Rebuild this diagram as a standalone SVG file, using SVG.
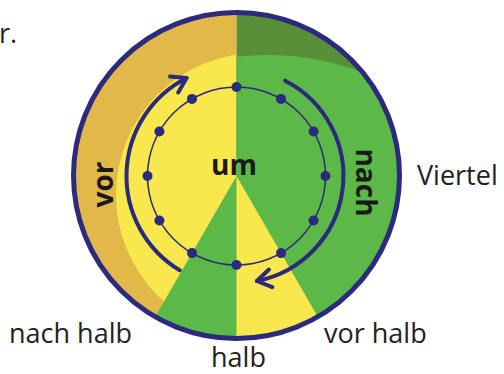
<svg xmlns="http://www.w3.org/2000/svg" width="504" height="374" viewBox="0 0 504 374">
<defs>
<style>
.lbl{font-family:"Open Sans","DejaVu Sans",sans-serif;font-size:27px;fill:#222}
.big{font-family:"Open Sans","DejaVu Sans",sans-serif;font-size:28px;font-weight:bold;fill:#1a1a1a}
.navy{fill:none;stroke:#2b2a7e}
.dot{fill:#2b2a7e}
</style>
<clipPath id="disc"><circle cx="236.5" cy="175.5" r="163"/></clipPath>
<clipPath id="lefthalf"><rect x="0" y="0" width="236.5" height="374"/></clipPath>
<clipPath id="righthalf"><rect x="236.5" y="0" width="270" height="374"/></clipPath>
</defs>
<rect width="504" height="374" fill="#ffffff"/>
<g id="dial">
<g clip-path="url(#disc)">
<rect x="60" y="0" width="176.5" height="374" fill="#e2b948"/>
<circle cx="258" cy="195" r="142" fill="#f8e84e" clip-path="url(#lefthalf)"/>
<rect x="236.5" y="0" width="180" height="374" fill="#5a8f3a"/>
<circle cx="268" cy="323" r="268" fill="#5cb947" clip-path="url(#righthalf)"/>
<path d="M236.5,176 L136.5,349.2 L236.5,376 Z" fill="#5cb947"/>
<path d="M236.5,176 L236.5,376 L336.5,349.2 Z" fill="#f8e84e"/>
</g>
<circle class="navy" cx="236.5" cy="175.5" r="163" stroke-width="5"/>
</g>
<g id="clockface">
<circle class="navy" cx="236.5" cy="176" r="89" stroke-width="1.5"/>
<circle class="dot" cx="236.5" cy="87" r="5"/>
<circle class="dot" cx="281" cy="98.9" r="5"/>
<circle class="dot" cx="313.6" cy="131.5" r="5"/>
<circle class="dot" cx="325.5" cy="176" r="5"/>
<circle class="dot" cx="313.6" cy="220.5" r="5"/>
<circle class="dot" cx="281" cy="253.1" r="5"/>
<circle class="dot" cx="236.5" cy="265" r="5"/>
<circle class="dot" cx="192" cy="253.1" r="5"/>
<circle class="dot" cx="159.4" cy="220.5" r="5"/>
<circle class="dot" cx="147.5" cy="176" r="5"/>
<circle class="dot" cx="159.4" cy="131.5" r="5"/>
<circle class="dot" cx="192" cy="98.9" r="5"/>
</g>
<g id="connectors">
<path class="navy" stroke-width="4" stroke-linecap="round" d="M179.8,270.3 A110,110 0 0 1 186.6,78"/>
<path class="navy" stroke-width="4" stroke-linecap="round" stroke-linejoin="round" d="M170,76.4 L186.6,78 L178.2,92.4"/>
<path class="navy" stroke-width="4" stroke-linecap="round" d="M285.1,80.7 A107,107 0 0 1 256.9,281"/>
<path class="navy" stroke-width="4" stroke-linecap="round" stroke-linejoin="round" d="M268.9,269.5 L256.9,281 L272.3,287.1"/>
</g>
<g id="labels-inner">
<text class="big" x="234" y="175" text-anchor="middle">um</text>
<text class="big" transform="translate(113,184.5) rotate(-90)" text-anchor="middle">vor</text>
<text class="big" transform="translate(356,182.5) rotate(90)" text-anchor="middle">nach</text>
</g>
<g id="labels-outer">
<text class="lbl" x="-1" y="43">r.</text>
<text class="lbl" x="417" y="185">Viertel</text>
<text class="lbl" x="9" y="343">nach halb</text>
<text class="lbl" x="324" y="343">vor halb</text>
<text class="lbl" x="211" y="367">halb</text>
</g>
</svg>
